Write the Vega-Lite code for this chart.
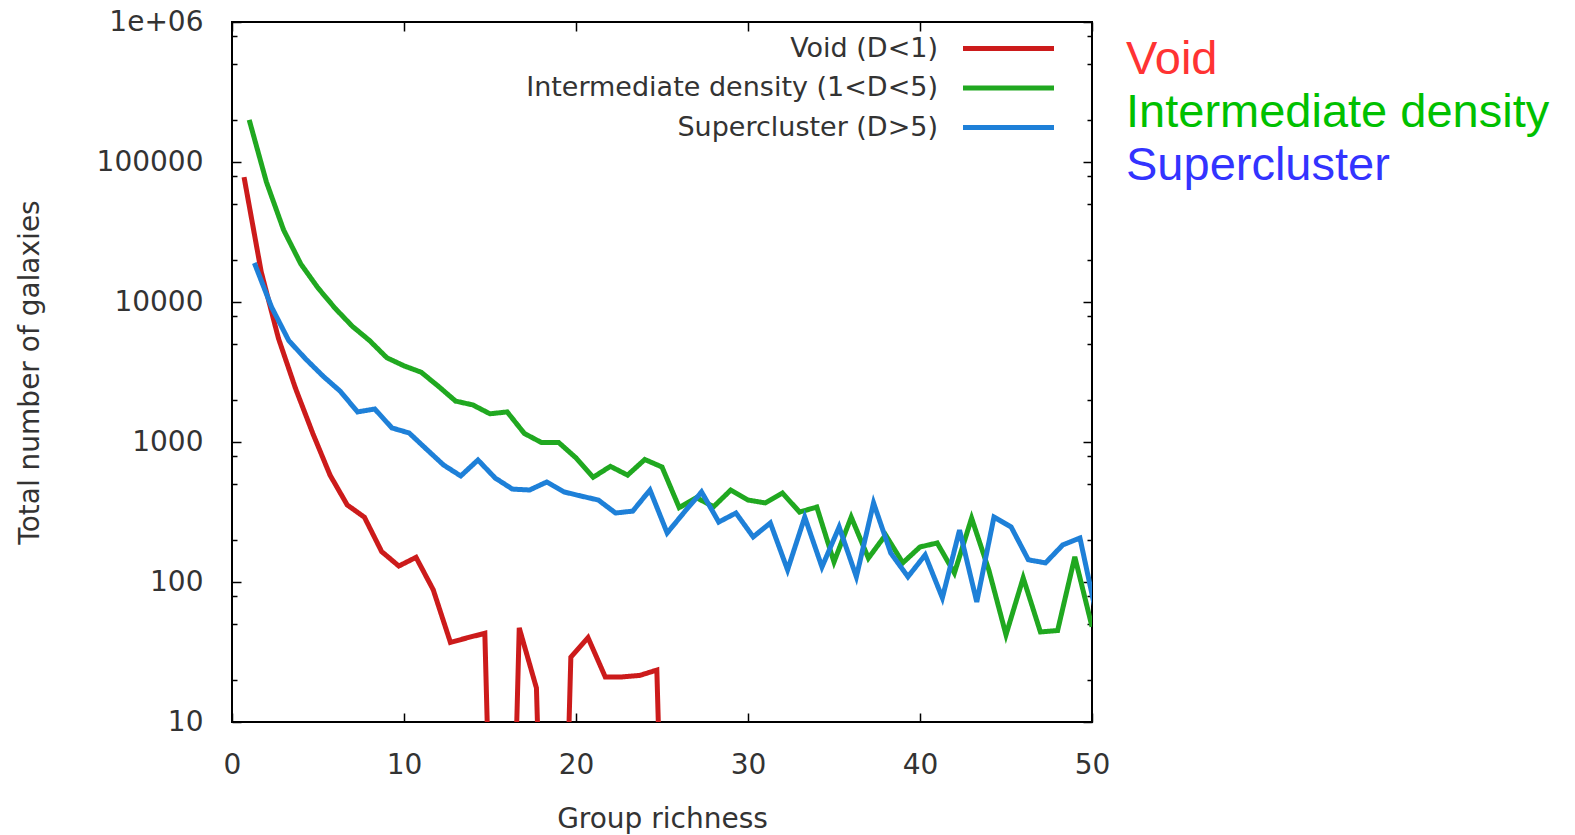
{
  "$schema": "https://vega.github.io/schema/vega-lite/v6.json",
  "width": 860,
  "height": 700,
  "autosize": {"type": "none"},
  "padding": {"left": 232, "top": 22, "right": 483, "bottom": 113},
  "background": "white",
  "config": {"view": {"stroke": "#000", "strokeWidth": 2}, "font": "DejaVu Sans"},
  "datasets": {
    "counts": [
      {"series": "Void (D<1)", "name": "Void", "richness": 0.7, "galaxies": 78000},
      {"series": "Void (D<1)", "name": "Void", "richness": 1.7, "galaxies": 16400},
      {"series": "Void (D<1)", "name": "Void", "richness": 2.7, "galaxies": 5500},
      {"series": "Void (D<1)", "name": "Void", "richness": 3.7, "galaxies": 2400},
      {"series": "Void (D<1)", "name": "Void", "richness": 4.7, "galaxies": 1150},
      {"series": "Void (D<1)", "name": "Void", "richness": 5.7, "galaxies": 580},
      {"series": "Void (D<1)", "name": "Void", "richness": 6.7, "galaxies": 355},
      {"series": "Void (D<1)", "name": "Void", "richness": 7.7, "galaxies": 290},
      {"series": "Void (D<1)", "name": "Void", "richness": 8.7, "galaxies": 165},
      {"series": "Void (D<1)", "name": "Void", "richness": 9.7, "galaxies": 130},
      {"series": "Void (D<1)", "name": "Void", "richness": 10.7, "galaxies": 150},
      {"series": "Void (D<1)", "name": "Void", "richness": 11.7, "galaxies": 88},
      {"series": "Void (D<1)", "name": "Void", "richness": 12.7, "galaxies": 37},
      {"series": "Void (D<1)", "name": "Void", "richness": 13.7, "galaxies": 40},
      {"series": "Void (D<1)", "name": "Void", "richness": 14.7, "galaxies": 43},
      {"series": "Void (D<1)", "name": "Void", "richness": 15.7, "galaxies": 0.001},
      {"series": "Void (D<1)", "name": "Void", "richness": 16.7, "galaxies": 47},
      {"series": "Void (D<1)", "name": "Void", "richness": 17.7, "galaxies": 17.5},
      {"series": "Void (D<1)", "name": "Void", "richness": 18.7, "galaxies": 0.001},
      {"series": "Void (D<1)", "name": "Void", "richness": 19.7, "galaxies": 29},
      {"series": "Void (D<1)", "name": "Void", "richness": 20.7, "galaxies": 40},
      {"series": "Void (D<1)", "name": "Void", "richness": 21.7, "galaxies": 21},
      {"series": "Void (D<1)", "name": "Void", "richness": 22.7, "galaxies": 21},
      {"series": "Void (D<1)", "name": "Void", "richness": 23.7, "galaxies": 21.5},
      {"series": "Void (D<1)", "name": "Void", "richness": 24.7, "galaxies": 23.5},
      {"series": "Void (D<1)", "name": "Void", "richness": 25.7, "galaxies": 0.001},
      {"series": "Intermediate density (1<D<5)", "name": "Intermediate density", "richness": 1, "galaxies": 200000},
      {"series": "Intermediate density (1<D<5)", "name": "Intermediate density", "richness": 2, "galaxies": 72000},
      {"series": "Intermediate density (1<D<5)", "name": "Intermediate density", "richness": 3, "galaxies": 32700},
      {"series": "Intermediate density (1<D<5)", "name": "Intermediate density", "richness": 4, "galaxies": 18700},
      {"series": "Intermediate density (1<D<5)", "name": "Intermediate density", "richness": 5, "galaxies": 12600},
      {"series": "Intermediate density (1<D<5)", "name": "Intermediate density", "richness": 6, "galaxies": 9000},
      {"series": "Intermediate density (1<D<5)", "name": "Intermediate density", "richness": 7, "galaxies": 6700},
      {"series": "Intermediate density (1<D<5)", "name": "Intermediate density", "richness": 8, "galaxies": 5300},
      {"series": "Intermediate density (1<D<5)", "name": "Intermediate density", "richness": 9, "galaxies": 4000},
      {"series": "Intermediate density (1<D<5)", "name": "Intermediate density", "richness": 10, "galaxies": 3500},
      {"series": "Intermediate density (1<D<5)", "name": "Intermediate density", "richness": 11, "galaxies": 3150},
      {"series": "Intermediate density (1<D<5)", "name": "Intermediate density", "richness": 12, "galaxies": 2500},
      {"series": "Intermediate density (1<D<5)", "name": "Intermediate density", "richness": 13, "galaxies": 1960},
      {"series": "Intermediate density (1<D<5)", "name": "Intermediate density", "richness": 14, "galaxies": 1840},
      {"series": "Intermediate density (1<D<5)", "name": "Intermediate density", "richness": 15, "galaxies": 1590},
      {"series": "Intermediate density (1<D<5)", "name": "Intermediate density", "richness": 16, "galaxies": 1640},
      {"series": "Intermediate density (1<D<5)", "name": "Intermediate density", "richness": 17, "galaxies": 1150},
      {"series": "Intermediate density (1<D<5)", "name": "Intermediate density", "richness": 18, "galaxies": 990},
      {"series": "Intermediate density (1<D<5)", "name": "Intermediate density", "richness": 19, "galaxies": 990},
      {"series": "Intermediate density (1<D<5)", "name": "Intermediate density", "richness": 20, "galaxies": 770},
      {"series": "Intermediate density (1<D<5)", "name": "Intermediate density", "richness": 21, "galaxies": 560},
      {"series": "Intermediate density (1<D<5)", "name": "Intermediate density", "richness": 22, "galaxies": 670},
      {"series": "Intermediate density (1<D<5)", "name": "Intermediate density", "richness": 23, "galaxies": 580},
      {"series": "Intermediate density (1<D<5)", "name": "Intermediate density", "richness": 24, "galaxies": 750},
      {"series": "Intermediate density (1<D<5)", "name": "Intermediate density", "richness": 25, "galaxies": 663},
      {"series": "Intermediate density (1<D<5)", "name": "Intermediate density", "richness": 26, "galaxies": 340},
      {"series": "Intermediate density (1<D<5)", "name": "Intermediate density", "richness": 27, "galaxies": 400},
      {"series": "Intermediate density (1<D<5)", "name": "Intermediate density", "richness": 28, "galaxies": 345},
      {"series": "Intermediate density (1<D<5)", "name": "Intermediate density", "richness": 29, "galaxies": 454},
      {"series": "Intermediate density (1<D<5)", "name": "Intermediate density", "richness": 30, "galaxies": 385},
      {"series": "Intermediate density (1<D<5)", "name": "Intermediate density", "richness": 31, "galaxies": 367},
      {"series": "Intermediate density (1<D<5)", "name": "Intermediate density", "richness": 32, "galaxies": 432},
      {"series": "Intermediate density (1<D<5)", "name": "Intermediate density", "richness": 33, "galaxies": 316},
      {"series": "Intermediate density (1<D<5)", "name": "Intermediate density", "richness": 34, "galaxies": 343},
      {"series": "Intermediate density (1<D<5)", "name": "Intermediate density", "richness": 35, "galaxies": 139},
      {"series": "Intermediate density (1<D<5)", "name": "Intermediate density", "richness": 36, "galaxies": 291},
      {"series": "Intermediate density (1<D<5)", "name": "Intermediate density", "richness": 37, "galaxies": 148},
      {"series": "Intermediate density (1<D<5)", "name": "Intermediate density", "richness": 38, "galaxies": 217},
      {"series": "Intermediate density (1<D<5)", "name": "Intermediate density", "richness": 39, "galaxies": 137},
      {"series": "Intermediate density (1<D<5)", "name": "Intermediate density", "richness": 40, "galaxies": 178},
      {"series": "Intermediate density (1<D<5)", "name": "Intermediate density", "richness": 41, "galaxies": 190},
      {"series": "Intermediate density (1<D<5)", "name": "Intermediate density", "richness": 42, "galaxies": 116},
      {"series": "Intermediate density (1<D<5)", "name": "Intermediate density", "richness": 43, "galaxies": 286},
      {"series": "Intermediate density (1<D<5)", "name": "Intermediate density", "richness": 44, "galaxies": 122},
      {"series": "Intermediate density (1<D<5)", "name": "Intermediate density", "richness": 45, "galaxies": 42},
      {"series": "Intermediate density (1<D<5)", "name": "Intermediate density", "richness": 46, "galaxies": 107},
      {"series": "Intermediate density (1<D<5)", "name": "Intermediate density", "richness": 47, "galaxies": 44},
      {"series": "Intermediate density (1<D<5)", "name": "Intermediate density", "richness": 48, "galaxies": 45},
      {"series": "Intermediate density (1<D<5)", "name": "Intermediate density", "richness": 49, "galaxies": 151},
      {"series": "Intermediate density (1<D<5)", "name": "Intermediate density", "richness": 50, "galaxies": 48},
      {"series": "Supercluster (D>5)", "name": "Supercluster", "richness": 1.3, "galaxies": 19000},
      {"series": "Supercluster (D>5)", "name": "Supercluster", "richness": 2.3, "galaxies": 9200},
      {"series": "Supercluster (D>5)", "name": "Supercluster", "richness": 3.3, "galaxies": 5300},
      {"series": "Supercluster (D>5)", "name": "Supercluster", "richness": 4.3, "galaxies": 3900},
      {"series": "Supercluster (D>5)", "name": "Supercluster", "richness": 5.3, "galaxies": 2950},
      {"series": "Supercluster (D>5)", "name": "Supercluster", "richness": 6.3, "galaxies": 2300},
      {"series": "Supercluster (D>5)", "name": "Supercluster", "richness": 7.3, "galaxies": 1640},
      {"series": "Supercluster (D>5)", "name": "Supercluster", "richness": 8.3, "galaxies": 1720},
      {"series": "Supercluster (D>5)", "name": "Supercluster", "richness": 9.3, "galaxies": 1260},
      {"series": "Supercluster (D>5)", "name": "Supercluster", "richness": 10.3, "galaxies": 1160},
      {"series": "Supercluster (D>5)", "name": "Supercluster", "richness": 11.3, "galaxies": 890},
      {"series": "Supercluster (D>5)", "name": "Supercluster", "richness": 12.3, "galaxies": 685},
      {"series": "Supercluster (D>5)", "name": "Supercluster", "richness": 13.3, "galaxies": 572},
      {"series": "Supercluster (D>5)", "name": "Supercluster", "richness": 14.3, "galaxies": 744},
      {"series": "Supercluster (D>5)", "name": "Supercluster", "richness": 15.3, "galaxies": 553},
      {"series": "Supercluster (D>5)", "name": "Supercluster", "richness": 16.3, "galaxies": 461},
      {"series": "Supercluster (D>5)", "name": "Supercluster", "richness": 17.3, "galaxies": 454},
      {"series": "Supercluster (D>5)", "name": "Supercluster", "richness": 18.3, "galaxies": 518},
      {"series": "Supercluster (D>5)", "name": "Supercluster", "richness": 19.3, "galaxies": 440},
      {"series": "Supercluster (D>5)", "name": "Supercluster", "richness": 20.3, "galaxies": 411},
      {"series": "Supercluster (D>5)", "name": "Supercluster", "richness": 21.3, "galaxies": 385},
      {"series": "Supercluster (D>5)", "name": "Supercluster", "richness": 22.3, "galaxies": 311},
      {"series": "Supercluster (D>5)", "name": "Supercluster", "richness": 23.3, "galaxies": 321},
      {"series": "Supercluster (D>5)", "name": "Supercluster", "richness": 24.3, "galaxies": 454},
      {"series": "Supercluster (D>5)", "name": "Supercluster", "richness": 25.3, "galaxies": 224},
      {"series": "Supercluster (D>5)", "name": "Supercluster", "richness": 26.3, "galaxies": 316},
      {"series": "Supercluster (D>5)", "name": "Supercluster", "richness": 27.3, "galaxies": 440},
      {"series": "Supercluster (D>5)", "name": "Supercluster", "richness": 28.3, "galaxies": 268},
      {"series": "Supercluster (D>5)", "name": "Supercluster", "richness": 29.3, "galaxies": 311},
      {"series": "Supercluster (D>5)", "name": "Supercluster", "richness": 30.3, "galaxies": 210},
      {"series": "Supercluster (D>5)", "name": "Supercluster", "richness": 31.3, "galaxies": 264},
      {"series": "Supercluster (D>5)", "name": "Supercluster", "richness": 32.3, "galaxies": 122},
      {"series": "Supercluster (D>5)", "name": "Supercluster", "richness": 33.3, "galaxies": 291},
      {"series": "Supercluster (D>5)", "name": "Supercluster", "richness": 34.3, "galaxies": 128},
      {"series": "Supercluster (D>5)", "name": "Supercluster", "richness": 35.3, "galaxies": 247},
      {"series": "Supercluster (D>5)", "name": "Supercluster", "richness": 36.3, "galaxies": 109},
      {"series": "Supercluster (D>5)", "name": "Supercluster", "richness": 37.3, "galaxies": 367},
      {"series": "Supercluster (D>5)", "name": "Supercluster", "richness": 38.3, "galaxies": 161},
      {"series": "Supercluster (D>5)", "name": "Supercluster", "richness": 39.3, "galaxies": 109},
      {"series": "Supercluster (D>5)", "name": "Supercluster", "richness": 40.3, "galaxies": 156},
      {"series": "Supercluster (D>5)", "name": "Supercluster", "richness": 41.3, "galaxies": 77},
      {"series": "Supercluster (D>5)", "name": "Supercluster", "richness": 42.3, "galaxies": 235},
      {"series": "Supercluster (D>5)", "name": "Supercluster", "richness": 43.3, "galaxies": 72},
      {"series": "Supercluster (D>5)", "name": "Supercluster", "richness": 44.3, "galaxies": 291},
      {"series": "Supercluster (D>5)", "name": "Supercluster", "richness": 45.3, "galaxies": 247},
      {"series": "Supercluster (D>5)", "name": "Supercluster", "richness": 46.3, "galaxies": 144},
      {"series": "Supercluster (D>5)", "name": "Supercluster", "richness": 47.3, "galaxies": 137},
      {"series": "Supercluster (D>5)", "name": "Supercluster", "richness": 48.3, "galaxies": 184},
      {"series": "Supercluster (D>5)", "name": "Supercluster", "richness": 49.3, "galaxies": 206},
      {"series": "Supercluster (D>5)", "name": "Supercluster", "richness": 50.3, "galaxies": 55}
    ]
  },
  "data": {"name": "counts"},
  "layer": [
    {
      "mark": {"type": "line", "clip": true, "strokeWidth": 5},
      "encoding": {
        "x": {
          "field": "richness", "type": "quantitative",
          "scale": {"domain": [0, 50], "nice": false, "zero": false},
          "axis": {
            "values": [0, 10, 20, 30, 40, 50], "domain": false, "grid": false,
            "tickSize": -9, "tickWidth": 1.5, "tickColor": "#000",
            "labelPadding": 38, "labelFlush": false, "labelOverlap": false,
            "labelFont": "DejaVu Sans", "labelFontSize": 28, "labelColor": "#333",
            "title": "Group richness", "titleFont": "DejaVu Sans", "titleFontSize": 28,
            "titleFontWeight": "normal", "titleColor": "#333", "titlePadding": 26
          }
        },
        "y": {
          "field": "galaxies", "type": "quantitative",
          "scale": {"type": "log", "domain": [10, 1000000], "nice": false},
          "axis": {
            "values": [10, 20, 50, 80, 100, 200, 500, 800, 1000, 2000, 5000, 8000, 10000, 20000, 50000, 80000, 100000, 200000, 500000, 800000, 1000000],
            "format": "d", "domain": false, "grid": false,
            "labelExpr": "datum.value >= 1000000 ? '1e+06' : (indexof(['10','100','1000','10000','100000'], datum.label) >= 0 ? datum.label : '')",
            "tickSize": {"condition": {"test": "abs(round(log(datum.value)/LN10) - log(datum.value)/LN10) < 0.001", "value": -9}, "value": -5},
            "tickWidth": 1.5, "tickColor": "#000",
            "labelPadding": 38, "labelFlush": false, "labelOverlap": false,
            "labelFont": "DejaVu Sans", "labelFontSize": 28, "labelColor": "#333",
            "title": "Total number of galaxies", "titleFont": "DejaVu Sans", "titleFontSize": 28,
            "titleFontWeight": "normal", "titleColor": "#333", "titlePadding": 52
          }
        },
        "color": {
          "field": "series", "type": "nominal",
          "scale": {
            "domain": ["Void (D<1)", "Intermediate density (1<D<5)", "Supercluster (D>5)"],
            "range": ["#cc1b1b", "#20a820", "#1e80d8"]
          },
          "legend": {
            "title": null, "orient": "none", "legendX": 763, "legendY": 13, "padding": 0,
            "symbolType": "M-22.75,0H22.75", "symbolSize": 16, "symbolStrokeWidth": 5,
            "labelAlign": "right", "labelOffset": -84, "labelLimit": 1000,
            "labelFont": "DejaVu Sans", "labelFontSize": 27, "labelColor": "#333",
            "rowPadding": 11.5
          }
        },
        "strokeDash": {
          "field": "name", "type": "nominal",
          "scale": {
            "domain": ["Void", "Intermediate density", "Supercluster"],
            "range": [[1, 0], [1, 0], [1, 0]]
          },
          "legend": {
            "title": null, "orient": "none", "legendX": 847, "legendY": 14, "padding": 0,
            "symbolOpacity": 0, "symbolSize": 1, "symbolStrokeWidth": 0,
            "labelOffset": 0, "labelLimit": 1000,
            "labelFont": "Liberation Sans", "labelFontSize": 47, "rowPadding": 5,
            "encode": {
              "labels": {
                "update": {
                  "fill": {"signal": "datum.value === 'Void' ? '#ff3333' : datum.value === 'Supercluster' ? '#3333ff' : '#00c000'"}
                }
              }
            }
          }
        }
      }
    },
    {
      "mark": {"type": "point", "opacity": 0, "clip": true},
      "encoding": {
        "x": {
          "field": "richness", "type": "quantitative",
          "axis": {
            "orient": "top", "values": [0, 10, 20, 30, 40, 50], "labels": false,
            "domain": false, "grid": false, "title": null,
            "tickSize": -9, "tickWidth": 1.5, "tickColor": "#000"
          }
        },
        "y": {
          "field": "galaxies", "type": "quantitative",
          "axis": {
            "orient": "right",
            "values": [10, 20, 50, 80, 100, 200, 500, 800, 1000, 2000, 5000, 8000, 10000, 20000, 50000, 80000, 100000, 200000, 500000, 800000, 1000000],
            "labels": false, "domain": false, "grid": false, "title": null,
            "tickSize": {"condition": {"test": "abs(round(log(datum.value)/LN10) - log(datum.value)/LN10) < 0.001", "value": -9}, "value": -5},
            "tickWidth": 1.5, "tickColor": "#000"
          }
        }
      }
    }
  ],
  "resolve": {"axis": {"x": "independent", "y": "independent"}}
}
